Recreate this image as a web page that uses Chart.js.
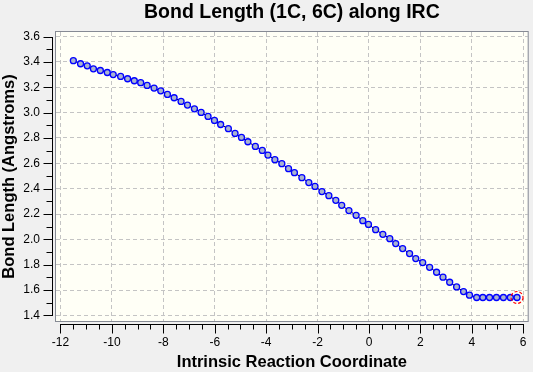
<!DOCTYPE html>
<html>
<head>
<meta charset="utf-8">
<title>Bond Length (1C, 6C) along IRC</title>
<style>
  html, body { margin: 0; padding: 0; background: #f0f0f0; }
  #wrap { width: 533px; height: 372px; }
</style>
<script src="https://cdn.jsdelivr.net/npm/chart.js@4/dist/chart.umd.min.js"></script>
</head>
<body>
<div id="wrap"><canvas id="irc" width="533" height="372"></canvas></div>
<script>
// IRC points
const ircCoord = [
  -11.50, -11.22, -10.96, -10.72, -10.45, -10.18, -9.95, -9.66, -9.39, -9.13,
  -8.88, -8.63, -8.36, -8.10, -7.84, -7.58, -7.31, -7.06, -6.79, -6.53,
  -6.26, -6.01, -5.77, -5.47, -5.21, -4.96, -4.71, -4.42, -4.15, -3.93,
  -3.66, -3.39, -3.13, -2.90, -2.61, -2.34, -2.10, -1.83, -1.56, -1.29,
  -1.06, -0.78, -0.50, -0.24, -0.02, 0.26, 0.54, 0.81, 1.04, 1.31,
  1.58, 1.82, 2.09, 2.36, 2.63, 2.88, 3.14, 3.41, 3.68, 3.91,
  4.19, 4.43, 4.69, 4.96, 5.23, 5.50, 5.76
];
const bondLength = [
  3.409, 3.385, 3.369, 3.345, 3.332, 3.316, 3.300, 3.285, 3.267, 3.251,
  3.236, 3.214, 3.193, 3.172, 3.143, 3.117, 3.088, 3.059, 3.030, 3.001,
  2.970, 2.938, 2.906, 2.873, 2.836, 2.804, 2.770, 2.733, 2.702, 2.665,
  2.629, 2.597, 2.558, 2.526, 2.487, 2.448, 2.418, 2.377, 2.345, 2.308,
  2.269, 2.227, 2.190, 2.148, 2.118, 2.077, 2.040, 2.006, 1.967, 1.928,
  1.888, 1.849, 1.817, 1.780, 1.741, 1.702, 1.662, 1.625, 1.589, 1.560,
  1.542, 1.542, 1.542, 1.542, 1.542, 1.542, 1.542
];

const xTickValues = [-12, -10, -8, -6, -4, -2, 0, 2, 4, 6];
const xTickLabels = ['-12', '-10', '-8', '-6', '-4', '-2', '0', '2', '4', '6'];
const yTickValues = [1.4, 1.6, 1.8, 2.0, 2.2, 2.4, 2.6, 2.8, 3.0, 3.2, 3.4, 3.6];
const yTickLabels = ['1.4', '1.6', '1.8', '2.0', '2.2', '2.4', '2.6', '2.8', '3.0', '3.2', '3.4', '3.6'];
const xMinorStep = 0.5;
const yMinorStep = 0.1;

const FONT = '"Liberation Sans", Arial, sans-serif';

// background, plot frame, detached axes and the marker on the last point
const frame = {
  id: 'frame',
  beforeDraw(chart) {
    const { ctx, chartArea: a } = chart;
    ctx.save();
    ctx.fillStyle = '#f0f0f0';
    ctx.fillRect(0, 0, chart.width, chart.height);
    ctx.fillStyle = '#fffff6';
    ctx.fillRect(a.left, a.top, a.right - a.left, a.bottom - a.top);
    ctx.restore();
  },
  afterDraw(chart) {
    const { ctx, chartArea: a, scales: { x, y } } = chart;
    ctx.save();
    ctx.lineWidth = 1;
    ctx.strokeStyle = '#868a94';
    ctx.strokeRect(a.left - 0.5, a.top - 0.5, a.right - a.left + 1, a.bottom - a.top + 1);

    ctx.strokeStyle = '#000';
    ctx.beginPath();
    // y axis, left of the frame
    const ax = 52.5;
    const y0 = yTickValues[0], y1 = yTickValues[yTickValues.length - 1];
    ctx.moveTo(ax, Math.round(y.getPixelForValue(y1)));
    ctx.lineTo(ax, Math.round(y.getPixelForValue(y0)) + 1);
    const ny = Math.round((y1 - y0) / yMinorStep);
    for (let i = 0; i <= ny; i++) {
      const py = Math.round(y.getPixelForValue(y0 + i * yMinorStep)) + 0.5;
      ctx.moveTo(ax - (i % 2 === 0 ? 9 : 6), py);
      ctx.lineTo(ax, py);
    }
    // x axis, below the frame
    const ay = 324.5;
    const x0 = xTickValues[0], x1 = xTickValues[xTickValues.length - 1];
    ctx.moveTo(Math.round(x.getPixelForValue(x0)), ay);
    ctx.lineTo(Math.round(x.getPixelForValue(x1)) + 1, ay);
    const nx = Math.round((x1 - x0) / xMinorStep);
    for (let i = 0; i <= nx; i++) {
      const px = Math.round(x.getPixelForValue(x0 + i * xMinorStep)) + 0.5;
      ctx.moveTo(px, ay);
      ctx.lineTo(px, ay + (i % 4 === 0 ? 9 : 5));
    }
    ctx.stroke();

    // dashed red ring on the final structure
    const pts = chart.getDatasetMeta(0).data;
    const last = pts[pts.length - 1];
    ctx.strokeStyle = '#ff0000';
    ctx.lineWidth = 1.2;
    ctx.setLineDash([3, 2]);
    ctx.beginPath();
    ctx.arc(last.x, last.y, 6, 0, Math.PI * 2);
    ctx.stroke();
    ctx.restore();
  }
};

Chart.defaults.font.family = FONT;
Chart.defaults.color = '#000';

new Chart(document.getElementById('irc'), {
  type: 'line',
  data: {
    datasets: [{
      data: ircCoord.map((c, i) => ({ x: c, y: bondLength[i] })),
      borderColor: '#000',
      borderWidth: 1,
      pointRadius: 3,
      pointBorderWidth: 1.3,
      pointBorderColor: '#0000ff',
      pointBackgroundColor: '#a9b3cf',
      tension: 0,
    }],
  },
  options: {
    responsive: false,
    animation: false,
    events: [],
    layout: { padding: { left: 0, right: 4, top: 0, bottom: 0 } },
    plugins: {
      legend: { display: false },
      tooltip: { enabled: false },
      title: {
        display: true,
        text: 'Bond Length (1C, 6C) along IRC',
        fullSize: false,
        color: '#000',
        font: { size: 19.5, weight: 'bold', family: FONT },
        padding: { top: 1, bottom: 7.6 },
      },
    },
    scales: {
      x: {
        type: 'linear',
        min: -12.175,
        max: 6.175,
        afterBuildTicks: s => { s.ticks = xTickValues.map(v => ({ value: v })); },
        afterFit: s => { s.height = 51; s.paddingLeft = 0; s.paddingRight = 0; },
        grid: { color: '#c4c4c4', drawTicks: false },
        border: { display: false, dash: [4, 3] },
        ticks: {
          padding: 14.8,
          autoSkip: false,
          maxRotation: 0,
          font: { size: 12 },
          callback: (v, i) => xTickLabels[i],
        },
        title: {
          display: true,
          text: 'Intrinsic Reaction Coordinate',
          font: { size: 16.5, weight: 'bold' },
          padding: { top: 0, bottom: 0 },
        },
      },
      y: {
        type: 'linear',
        min: 1.3566,
        max: 3.6355,
        afterBuildTicks: s => { s.ticks = yTickValues.map(v => ({ value: v })); },
        afterFit: s => { s.width = 56; s.paddingTop = 0; s.paddingBottom = 0; },
        grid: { color: '#c4c4c4', drawTicks: false },
        border: { display: false, dash: [4, 3] },
        ticks: {
          padding: 16,
          autoSkip: false,
          font: { size: 12 },
          callback: (v, i) => yTickLabels[i],
        },
        title: {
          display: true,
          text: 'Bond Length (Angstroms)',
          font: { size: 16.5, weight: 'bold' },
          padding: { top: 0, bottom: 0 },
        },
      },
    },
  },
  plugins: [frame],
});
</script>
</body>
</html>
